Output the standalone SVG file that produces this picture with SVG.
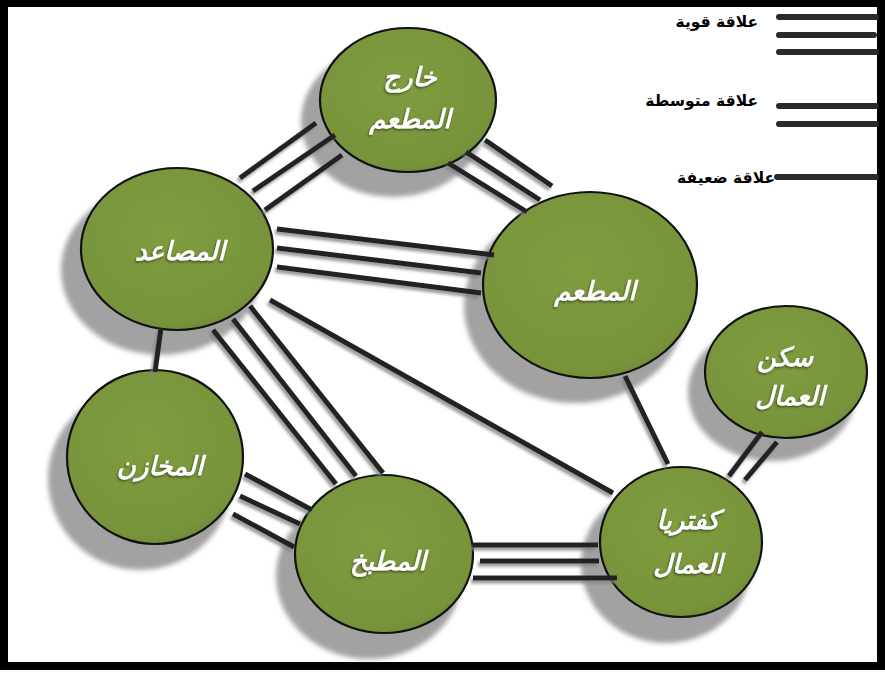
<svg xmlns="http://www.w3.org/2000/svg" width="885" height="673" viewBox="0 0 885 673">
<defs>
  <style>
    .frame{fill:#ffffff;stroke:#000000;stroke-width:8}
    .shadow{fill:#a2a2a2;filter:url(#blur)}
    .node{fill:url(#green);stroke:#111111;stroke-width:2.2}
    .label{fill:#ffffff;font-family:"DejaVu Sans",sans-serif;font-size:26px;font-weight:bold;font-style:italic;text-anchor:middle;filter:url(#tshadow)}
    .edge{stroke:#222222;stroke-width:5;stroke-linecap:butt;fill:none}
    .leg{stroke:#2a2a2a;stroke-width:6;stroke-linecap:round}
    .legtext{fill:#000000;font-family:"DejaVu Sans",sans-serif;font-size:15.5px;font-weight:bold;text-anchor:end}
  </style>
  <radialGradient id="green" cx="0.45" cy="0.4" r="0.65">
    <stop offset="0" stop-color="#7f9c3f"/>
    <stop offset="0.85" stop-color="#78943b"/>
    <stop offset="1" stop-color="#6c8734"/>
  </radialGradient>
  <filter id="blur" x="-20%" y="-20%" width="140%" height="140%">
    <feGaussianBlur stdDeviation="2.5"/>
  </filter>
  <filter id="lshadow" x="-10%" y="-10%" width="120%" height="120%">
    <feDropShadow dx="-2" dy="3" stdDeviation="1.5" flood-color="#808080" flood-opacity="0.8"/>
  </filter>
  <filter id="tshadow" x="-10%" y="-20%" width="120%" height="140%">
    <feDropShadow dx="-1" dy="1.5" stdDeviation="0.8" flood-color="#3a4a1a" flood-opacity="0.9"/>
  </filter>
</defs>

<rect class="frame" x="4" y="3" width="877" height="663"/>

<g id="legend">
  <line class="leg" x1="779" y1="17" x2="876" y2="17"/>
  <line class="leg" x1="779" y1="35" x2="874" y2="35"/>
  <line class="leg" x1="779" y1="52" x2="876" y2="52"/>
  <line class="leg" x1="779" y1="106" x2="876" y2="106"/>
  <line class="leg" x1="779" y1="124" x2="876" y2="124"/>
  <line class="leg" x1="777" y1="177" x2="876" y2="177"/>
  <text class="legtext" x="758" y="27">علاقة قوية</text>
  <text class="legtext" x="758" y="106">علاقة متوسطة</text>
  <text class="legtext" x="775" y="183">علاقة ضعيفة</text>
</g>

<g id="shadows">
  <ellipse class="shadow" cx="393" cy="121" rx="92" ry="76"/>
  <ellipse class="shadow" cx="161" cy="270" rx="100" ry="85"/>
  <ellipse class="shadow" cx="575" cy="306" rx="111" ry="97"/>
  <ellipse class="shadow" cx="772" cy="392" rx="84" ry="69"/>
  <ellipse class="shadow" cx="666" cy="564" rx="85" ry="79"/>
  <ellipse class="shadow" cx="369" cy="576" rx="93" ry="83"/>
  <ellipse class="shadow" cx="140" cy="479" rx="92" ry="91"/>
</g>

<g id="node-kharej">
  <ellipse class="node" cx="408" cy="100" rx="88" ry="72"/>
  <text class="label" x="410" y="86">خارج</text>
  <text class="label" x="410" y="128">المطعم</text>
</g>
<g id="node-masaed">
  <ellipse class="node" cx="177" cy="249" rx="96" ry="81"/>
  <text class="label" x="180" y="260">المصاعد</text>
</g>
<g id="node-mataam">
  <ellipse class="node" cx="590" cy="285" rx="107" ry="93"/>
  <text class="label" x="595" y="300">المطعم</text>
</g>
<g id="node-sakan">
  <ellipse class="node" cx="786" cy="372" rx="81" ry="66"/>
  <text class="label" x="785" y="366">سكن</text>
  <text class="label" x="790" y="405">العمال</text>
</g>
<g id="node-kafeteria">
  <ellipse class="node" cx="681" cy="542" rx="81" ry="75"/>
  <text class="label" x="688" y="529">كفتريا</text>
  <text class="label" x="688" y="573">العمال</text>
</g>
<g id="node-matbakh">
  <ellipse class="node" cx="384" cy="554" rx="89" ry="79"/>
  <text class="label" x="388" y="570">المطبخ</text>
</g>
<g id="node-makhazen">
  <ellipse class="node" cx="155" cy="457" rx="88" ry="87"/>
  <text class="label" x="160" y="475">المخازن</text>
</g>

<g id="connectors" filter="url(#lshadow)">
  <!-- masaed - kharej (strong) -->
  <line class="edge" x1="240" y1="178" x2="316" y2="123"/>
  <line class="edge" x1="253" y1="191" x2="335" y2="135"/>
  <line class="edge" x1="265" y1="210" x2="342" y2="155"/>
  <!-- kharej - mataam (strong) -->
  <line class="edge" x1="448" y1="163" x2="527" y2="212"/>
  <line class="edge" x1="466" y1="152" x2="540" y2="200"/>
  <line class="edge" x1="485" y1="140" x2="552" y2="186"/>
  <!-- masaed - mataam (strong) -->
  <line class="edge" x1="277" y1="229" x2="494" y2="255"/>
  <line class="edge" x1="277" y1="248" x2="481" y2="273"/>
  <line class="edge" x1="277" y1="267" x2="481" y2="293"/>
  <!-- masaed - makhazen (weak) -->
  <line class="edge" x1="161" y1="328" x2="155" y2="372"/>
  <!-- masaed - matbakh (strong) -->
  <line class="edge" x1="213" y1="330" x2="336" y2="484"/>
  <line class="edge" x1="233" y1="319" x2="356" y2="476"/>
  <line class="edge" x1="250" y1="306" x2="383" y2="473"/>
  <!-- masaed - kafeteria (weak) -->
  <line class="edge" x1="270" y1="300" x2="613" y2="493"/>
  <!-- mataam - kafeteria (weak) -->
  <line class="edge" x1="625" y1="376" x2="668" y2="464"/>
  <!-- sakan - kafeteria (medium) -->
  <line class="edge" x1="762" y1="432" x2="729" y2="476"/>
  <line class="edge" x1="777" y1="442" x2="745" y2="480"/>
  <!-- makhazen - matbakh (strong) -->
  <line class="edge" x1="245" y1="474" x2="312" y2="510"/>
  <line class="edge" x1="240" y1="496" x2="300" y2="524"/>
  <line class="edge" x1="233" y1="514" x2="294" y2="547"/>
  <!-- matbakh - kafeteria (strong) -->
  <line class="edge" x1="473" y1="545" x2="598" y2="545"/>
  <line class="edge" x1="480" y1="561" x2="599" y2="561"/>
  <line class="edge" x1="473" y1="578" x2="617" y2="578"/>
</g>
</svg>
